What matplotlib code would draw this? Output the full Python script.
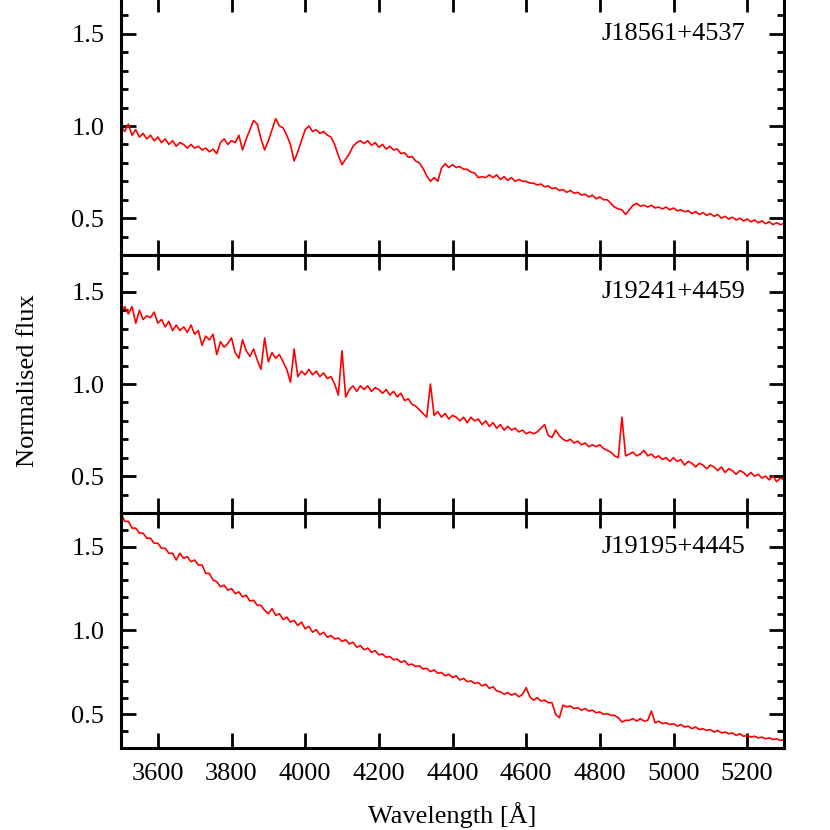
# -*- coding: utf-8 -*-
"""
Normalised spectra of three objects, stacked panels sharing the wavelength axis.
"""

import matplotlib
matplotlib.use('Agg')
import matplotlib.pyplot as plt
from matplotlib.ticker import MultipleLocator, FormatStrFormatter

plt.rcParams.update({
    'font.family': 'serif',
    'font.serif': ['Liberation Serif', 'DejaVu Serif'],
    'font.size': 19,
    'axes.linewidth': 2.2,
    'xtick.direction': 'in',
    'ytick.direction': 'in',
    'xtick.major.size': 10.8,
    'ytick.major.size': 10.8,
    'ytick.minor.size': 5.0,
    'xtick.major.width': 2.0,
    'ytick.major.width': 2.0,
    'ytick.minor.width': 2.0,
    'xtick.labelsize': 19,
    'ytick.labelsize': 19,
})

# ============================================================
# Data (10 A sampling)
# ============================================================
wavelength = [
    3500, 3510, 3520, 3530, 3540, 3550, 3560, 3570, 3580, 3590,
    3600, 3610, 3620, 3630, 3640, 3650, 3660, 3670, 3680, 3690,
    3700, 3710, 3720, 3730, 3740, 3750, 3760, 3770, 3780, 3790,
    3800, 3810, 3820, 3830, 3840, 3850, 3860, 3870, 3880, 3890,
    3900, 3910, 3920, 3930, 3940, 3950, 3960, 3970, 3980, 3990,
    4000, 4010, 4020, 4030, 4040, 4050, 4060, 4070, 4080, 4090,
    4100, 4110, 4120, 4130, 4140, 4150, 4160, 4170, 4180, 4190,
    4200, 4210, 4220, 4230, 4240, 4250, 4260, 4270, 4280, 4290,
    4300, 4310, 4320, 4330, 4340, 4350, 4360, 4370, 4380, 4390,
    4400, 4410, 4420, 4430, 4440, 4450, 4460, 4470, 4480, 4490,
    4500, 4510, 4520, 4530, 4540, 4550, 4560, 4570, 4580, 4590,
    4600, 4610, 4620, 4630, 4640, 4650, 4660, 4670, 4680, 4690,
    4700, 4710, 4720, 4730, 4740, 4750, 4760, 4770, 4780, 4790,
    4800, 4810, 4820, 4830, 4840, 4850, 4860, 4870, 4880, 4890,
    4900, 4910, 4920, 4930, 4940, 4950, 4960, 4970, 4980, 4990,
    5000, 5010, 5020, 5030, 5040, 5050, 5060, 5070, 5080, 5090,
    5100, 5110, 5120, 5130, 5140, 5150, 5160, 5170, 5180, 5190,
    5200, 5210, 5220, 5230, 5240, 5250, 5260, 5270, 5280, 5290,
    5300,
]

flux_j18561 = [
    1.00, 0.97, 1.01, 0.95, 0.98, 0.94, 0.96, 0.93, 0.95, 0.92,
    0.94, 0.91, 0.93, 0.90, 0.92, 0.89, 0.91, 0.90, 0.88, 0.90,
    0.88, 0.89, 0.87, 0.88, 0.86, 0.875, 0.85, 0.91, 0.93, 0.90,
    0.92, 0.91, 0.95, 0.87, 0.93, 0.98, 1.03, 1.01, 0.93, 0.87,
    0.92, 0.98, 1.04, 1.00, 0.99, 0.95, 0.90, 0.81, 0.86, 0.92,
    0.98, 1.00, 0.97, 0.98, 0.96, 0.97, 0.95, 0.94, 0.90, 0.84,
    0.79, 0.82, 0.85, 0.89, 0.91, 0.92, 0.905, 0.92, 0.895, 0.91,
    0.885, 0.90, 0.875, 0.89, 0.87, 0.875, 0.85, 0.855, 0.83, 0.835,
    0.81, 0.80, 0.77, 0.73, 0.70, 0.72, 0.70, 0.77, 0.795, 0.775,
    0.79, 0.775, 0.78, 0.765, 0.765, 0.75, 0.745, 0.72, 0.725, 0.72,
    0.735, 0.72, 0.735, 0.71, 0.725, 0.705, 0.72, 0.70, 0.71, 0.70,
    0.70, 0.69, 0.69, 0.68, 0.685, 0.67, 0.675, 0.66, 0.665, 0.65,
    0.655, 0.64, 0.65, 0.635, 0.64, 0.625, 0.63, 0.615, 0.625, 0.605,
    0.615, 0.60, 0.60, 0.58, 0.56, 0.55, 0.545, 0.52, 0.545, 0.57,
    0.58, 0.565, 0.57, 0.56, 0.57, 0.555, 0.56, 0.55, 0.56, 0.545,
    0.555, 0.54, 0.545, 0.535, 0.54, 0.525, 0.535, 0.52, 0.53, 0.515,
    0.525, 0.51, 0.52, 0.50, 0.51, 0.495, 0.505, 0.49, 0.50, 0.485,
    0.495, 0.48, 0.49, 0.475, 0.485, 0.47, 0.48, 0.465, 0.475, 0.465,
    0.47,
]

flux_j19241 = [
    1.39, 1.42, 1.38, 1.42, 1.33, 1.40, 1.35, 1.37, 1.36, 1.39,
    1.33, 1.35, 1.31, 1.34, 1.29, 1.32, 1.29, 1.31, 1.28, 1.32,
    1.27, 1.29, 1.21, 1.26, 1.24, 1.27, 1.16, 1.23, 1.20, 1.22,
    1.25, 1.17, 1.14, 1.24, 1.18, 1.15, 1.19, 1.13, 1.08, 1.25,
    1.12, 1.17, 1.14, 1.16, 1.12, 1.08, 1.01, 1.19, 1.04, 1.07,
    1.05, 1.08, 1.05, 1.07, 1.04, 1.06, 1.03, 1.04, 1.00, 0.94,
    1.18, 0.93, 0.97, 0.99, 0.96, 0.99, 0.97, 0.99, 0.96, 0.98,
    0.97, 0.95, 0.97, 0.94, 0.96, 0.93, 0.95, 0.91, 0.92, 0.89,
    0.88, 0.86, 0.84, 0.82, 1.00, 0.83, 0.85, 0.82, 0.84, 0.81,
    0.83, 0.82, 0.80, 0.82, 0.79, 0.82, 0.80, 0.81, 0.78, 0.80,
    0.77, 0.79, 0.76, 0.78, 0.75, 0.77, 0.75, 0.76, 0.74, 0.75,
    0.73, 0.74, 0.73, 0.74, 0.76, 0.78, 0.72, 0.71, 0.75, 0.72,
    0.70, 0.69, 0.70, 0.68, 0.69, 0.67, 0.68, 0.66, 0.67, 0.66,
    0.67, 0.65, 0.64, 0.63, 0.61, 0.60, 0.82, 0.61, 0.62, 0.63,
    0.61, 0.62, 0.64, 0.61, 0.62, 0.60, 0.61, 0.59, 0.60, 0.58,
    0.60, 0.58, 0.59, 0.56, 0.58, 0.57, 0.55, 0.57, 0.56, 0.54,
    0.56, 0.55, 0.53, 0.55, 0.52, 0.54, 0.53, 0.51, 0.53, 0.52,
    0.50, 0.52, 0.50, 0.51, 0.49, 0.50, 0.48, 0.50, 0.47, 0.49,
    0.48,
]

flux_j19195 = [
    1.70, 1.65, 1.65, 1.61, 1.61, 1.58, 1.58, 1.55, 1.55, 1.52,
    1.52, 1.49, 1.49, 1.46, 1.46, 1.42, 1.46, 1.43, 1.44, 1.41,
    1.42, 1.39, 1.39, 1.34, 1.34, 1.30, 1.29, 1.26, 1.27, 1.24,
    1.25, 1.22, 1.23, 1.20, 1.21, 1.175, 1.18, 1.15, 1.15, 1.12,
    1.10, 1.13, 1.09, 1.10, 1.065, 1.08, 1.05, 1.06, 1.03, 1.05,
    1.01, 1.025, 0.99, 1.005, 0.975, 0.99, 0.96, 0.97, 0.95, 0.955,
    0.935, 0.945, 0.92, 0.93, 0.90, 0.91, 0.885, 0.895, 0.87, 0.88,
    0.855, 0.86, 0.84, 0.845, 0.825, 0.83, 0.81, 0.82, 0.795, 0.80,
    0.785, 0.79, 0.77, 0.775, 0.755, 0.765, 0.745, 0.75, 0.73, 0.74,
    0.72, 0.73, 0.705, 0.715, 0.695, 0.70, 0.685, 0.69, 0.67, 0.68,
    0.655, 0.665, 0.64, 0.635, 0.62, 0.63, 0.615, 0.625, 0.605, 0.62,
    0.66, 0.605, 0.585, 0.60, 0.58, 0.585, 0.57, 0.57, 0.50, 0.48,
    0.555, 0.545, 0.55, 0.535, 0.54, 0.525, 0.535, 0.52, 0.525, 0.51,
    0.515, 0.50, 0.505, 0.495, 0.495, 0.48, 0.455, 0.465, 0.465, 0.475,
    0.46, 0.475, 0.46, 0.465, 0.52, 0.45, 0.46, 0.445, 0.45, 0.44,
    0.445, 0.43, 0.44, 0.425, 0.43, 0.415, 0.425, 0.41, 0.415, 0.405,
    0.41, 0.395, 0.405, 0.39, 0.395, 0.385, 0.39, 0.375, 0.385, 0.37,
    0.375, 0.365, 0.37, 0.36, 0.365, 0.355, 0.36, 0.35, 0.355, 0.345,
    0.35,
]

object_names = ['J18561+4537', 'J19241+4459', 'J19195+4445']
spectra = [flux_j18561, flux_j19241, flux_j19195]
x_ticks = [3600, 3800, 4000, 4200, 4400, 4600, 4800, 5000, 5200]
y_ticks = [0.5, 1.0, 1.5]

# ============================================================
# Figure
# ============================================================
fig = plt.figure(figsize=(8.3, 8.3), dpi=100)

left, right = 121 / 830, 784 / 830
# panel edges in pixels from the top of the image (top panel runs past the edge)
edges_px = [(-3, 255), (255, 513), (513, 748)]

for i, (top_px, bot_px) in enumerate(edges_px):
    ax = fig.add_axes([left, 1 - bot_px / 830, right - left, (bot_px - top_px) / 830])
    ax.plot(wavelength, spectra[i], color='#ff0000', lw=1.2)
    ax.set_xlim(3500, 5300)
    ax.set_ylim(0.3, 1.7)
    ax.set_xticks(x_ticks)
    ax.set_yticks(y_ticks)
    ax.yaxis.set_minor_locator(MultipleLocator(0.1))
    ax.yaxis.set_major_formatter(FormatStrFormatter('%.1f'))
    ax.tick_params(axis='both', which='both', top=True, right=True)
    ax.tick_params(axis='y', pad=12)
    ax.tick_params(axis='x', pad=11)
    if i < 2:
        ax.tick_params(axis='x', labelbottom=False)
    ax.text(0.941, 0.855, object_names[i], transform=ax.transAxes,
            ha='right', va='center', fontsize=19)

fig.text((left + right) / 2, 1 - 815 / 830, 'Wavelength [Å]',
         ha='center', va='center', fontsize=19)
fig.text(28 / 830, 1 - 381 / 830, 'Normalised flux', rotation=90,
         ha='center', va='center', fontsize=19)

fig.savefig('out.png', dpi=100)
plt.close()
